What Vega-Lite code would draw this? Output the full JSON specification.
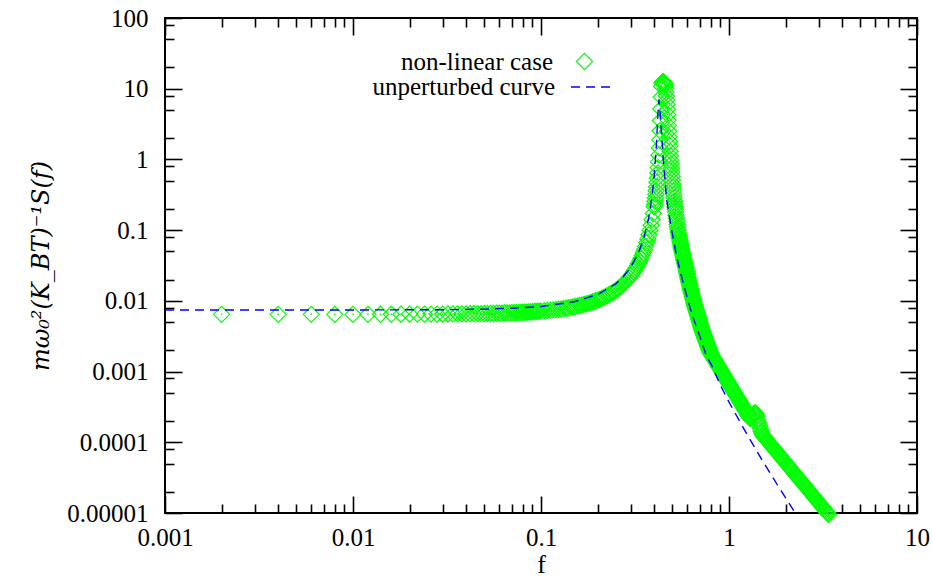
{
  "$schema": "https://vega.github.io/schema/vega-lite/v6.json",
  "width": 752,
  "height": 495,
  "autosize": "none",
  "padding": {"left": 165, "top": 18, "right": 15, "bottom": 70},
  "background": "white",
  "datasets": {
    "nl": [
      {"f":0.002,"S":0.00645},{"f":0.004,"S":0.00645},{"f":0.006,"S":0.00645},{"f":0.008,"S":0.00645},{"f":0.010,"S":0.00645},
      {"f":0.012,"S":0.00645},{"f":0.014,"S":0.00646},{"f":0.016,"S":0.00646},{"f":0.018,"S":0.00647},{"f":0.020,"S":0.00648},
      {"f":0.022,"S":0.00648},{"f":0.024,"S":0.00649},{"f":0.026,"S":0.00650},{"f":0.028,"S":0.00650},{"f":0.030,"S":0.00651},
      {"f":0.032,"S":0.00652},{"f":0.034,"S":0.00653},{"f":0.036,"S":0.00654},{"f":0.038,"S":0.00655},{"f":0.040,"S":0.00656},
      {"f":0.042,"S":0.00657},{"f":0.044,"S":0.00658},{"f":0.046,"S":0.00659},{"f":0.048,"S":0.00660},{"f":0.050,"S":0.00662},
      {"f":0.052,"S":0.006634},{"f":0.054,"S":0.006649},{"f":0.056,"S":0.006664},{"f":0.058,"S":0.00668},{"f":0.060,"S":0.006697},
      {"f":0.062,"S":0.006714},{"f":0.064,"S":0.006732},{"f":0.066,"S":0.00675},{"f":0.068,"S":0.006769},{"f":0.070,"S":0.006789},
      {"f":0.072,"S":0.00681},{"f":0.074,"S":0.006831},{"f":0.076,"S":0.006853},{"f":0.078,"S":0.006875},{"f":0.080,"S":0.006899},
      {"f":0.082,"S":0.006922},{"f":0.084,"S":0.006947},{"f":0.086,"S":0.006973},{"f":0.088,"S":0.006999},{"f":0.090,"S":0.007026},
      {"f":0.092,"S":0.007053},{"f":0.094,"S":0.007082},{"f":0.096,"S":0.007111},{"f":0.098,"S":0.007141},{"f":0.100,"S":0.007172},
      {"f":0.104,"S":0.007236},{"f":0.108,"S":0.007304},{"f":0.112,"S":0.007375},{"f":0.116,"S":0.00745},{"f":0.120,"S":0.007528},
      {"f":0.124,"S":0.007611},{"f":0.128,"S":0.007698},{"f":0.132,"S":0.007789},{"f":0.136,"S":0.007885},{"f":0.140,"S":0.007985},
      {"f":0.144,"S":0.00809},{"f":0.148,"S":0.008201},{"f":0.152,"S":0.008317},{"f":0.156,"S":0.008438},{"f":0.160,"S":0.008565},
      {"f":0.164,"S":0.008699},{"f":0.168,"S":0.00884},{"f":0.172,"S":0.008987},{"f":0.176,"S":0.009141},{"f":0.180,"S":0.009304},
      {"f":0.184,"S":0.009474},{"f":0.188,"S":0.009653},{"f":0.192,"S":0.009841},{"f":0.196,"S":0.010039},{"f":0.200,"S":0.010247},
      {"f":0.205,"S":0.010522},{"f":0.210,"S":0.010817},{"f":0.215,"S":0.01113},{"f":0.220,"S":0.011467},{"f":0.225,"S":0.011826},
      {"f":0.230,"S":0.012212},{"f":0.235,"S":0.012626},{"f":0.240,"S":0.013071},{"f":0.245,"S":0.01355},{"f":0.250,"S":0.014066},
      {"f":0.255,"S":0.014624},{"f":0.260,"S":0.015227},{"f":0.265,"S":0.015883},{"f":0.270,"S":0.016594},{"f":0.275,"S":0.01737},
      {"f":0.280,"S":0.018217},{"f":0.285,"S":0.019144},{"f":0.290,"S":0.020163},{"f":0.295,"S":0.021284},{"f":0.300,"S":0.022525},
      {"f":0.305,"S":0.0239},{"f":0.310,"S":0.025431},{"f":0.315,"S":0.027143},{"f":0.320,"S":0.029066},{"f":0.325,"S":0.031236},
      {"f":0.330,"S":0.033697},{"f":0.335,"S":0.036507},{"f":0.340,"S":0.039734},{"f":0.345,"S":0.043467},{"f":0.350,"S":0.047824},
      {"f":0.355,"S":0.052943},{"f":0.360,"S":0.059023},{"f":0.365,"S":0.066324},{"f":0.370,"S":0.075201},{"f":0.375,"S":0.086146},
      {"f":0.380,"S":0.099873},{"f":0.385,"S":0.11742},{"f":0.390,"S":0.14037},{"f":0.395,"S":0.17124},{"f":0.400,"S":0.21414},
      {"f":0.402,"S":0.2318},{"f":0.404,"S":0.2565},{"f":0.406,"S":0.2855},{"f":0.408,"S":0.3199},{"f":0.410,"S":0.361},
      {"f":0.412,"S":0.4108},{"f":0.414,"S":0.4718},{"f":0.416,"S":0.5477},{"f":0.418,"S":0.6436},{"f":0.420,"S":0.767},
      {"f":0.422,"S":0.9295},{"f":0.424,"S":1.1488},{"f":0.426,"S":1.4534},{"f":0.428,"S":1.8912},{"f":0.430,"S":2.544},
      {"f":0.432,"S":3.555},{"f":0.434,"S":5.161},{"f":0.436,"S":7.645},{"f":0.438,"S":10.78},{"f":0.440,"S":12.0},
      {"f":0.442,"S":12.4},{"f":0.444,"S":12.5},{"f":0.446,"S":12.5},{"f":0.448,"S":12.4},{"f":0.450,"S":12.3},
      {"f":0.452,"S":12.15},{"f":0.454,"S":11.9},{"f":0.456,"S":11.5},{"f":0.458,"S":11.0},{"f":0.460,"S":10.0},
      {"f":0.462,"S":8.9},{"f":0.464,"S":7.9},{"f":0.466,"S":6.9},{"f":0.468,"S":6.0},{"f":0.470,"S":5.1},
      {"f":0.472,"S":4.3},{"f":0.474,"S":3.6},{"f":0.476,"S":3.0},{"f":0.478,"S":2.5},{"f":0.480,"S":2.1},
      {"f":0.482,"S":1.8},{"f":0.484,"S":1.55},{"f":0.486,"S":1.3},{"f":0.488,"S":1.12},{"f":0.490,"S":0.98},
      {"f":0.492,"S":0.86},{"f":0.494,"S":0.75},{"f":0.496,"S":0.66},{"f":0.498,"S":0.575},{"f":0.500,"S":0.51},
      {"f":0.502,"S":0.45},{"f":0.504,"S":0.40},{"f":0.506,"S":0.36},{"f":0.508,"S":0.32},{"f":0.510,"S":0.29},
      {"f":0.512,"S":0.26},{"f":0.514,"S":0.236},{"f":0.516,"S":0.214},{"f":0.518,"S":0.195},{"f":0.520,"S":0.18},
      {"f":0.5225,"S":0.163},{"f":0.525,"S":0.148},{"f":0.5275,"S":0.133},{"f":0.530,"S":0.120},{"f":0.5325,"S":0.1106},
      {"f":0.535,"S":0.102},{"f":0.5375,"S":0.0943},{"f":0.540,"S":0.0871},{"f":0.5425,"S":0.0817},{"f":0.545,"S":0.0767},
      {"f":0.5475,"S":0.072},{"f":0.550,"S":0.0676},{"f":0.5525,"S":0.0631},{"f":0.555,"S":0.0589},{"f":0.5575,"S":0.0559},
      {"f":0.560,"S":0.0531},{"f":0.5625,"S":0.0504},{"f":0.565,"S":0.0479},{"f":0.5675,"S":0.0455},{"f":0.570,"S":0.0432},
      {"f":0.5725,"S":0.041},{"f":0.575,"S":0.0389},{"f":0.5775,"S":0.0372},{"f":0.580,"S":0.0355},{"f":0.5825,"S":0.0335},
      {"f":0.585,"S":0.0316},{"f":0.5875,"S":0.0302},{"f":0.590,"S":0.0288},{"f":0.5925,"S":0.0272},{"f":0.595,"S":0.0257},
      {"f":0.5975,"S":0.0244},{"f":0.600,"S":0.0232},{"f":0.6025,"S":0.022},{"f":0.605,"S":0.0209},{"f":0.6075,"S":0.02},
      {"f":0.610,"S":0.0191},{"f":0.6125,"S":0.0182},{"f":0.615,"S":0.0174},{"f":0.6175,"S":0.0166},{"f":0.620,"S":0.0158},
      {"f":0.6225,"S":0.0151},{"f":0.625,"S":0.0145},{"f":0.6275,"S":0.0138},{"f":0.630,"S":0.0132},{"f":0.6325,"S":0.0127},
      {"f":0.635,"S":0.0122},{"f":0.6375,"S":0.0117},{"f":0.640,"S":0.0112},{"f":0.6425,"S":0.01085},{"f":0.645,"S":0.0105},
      {"f":0.6475,"S":0.01007},{"f":0.650,"S":0.00966},{"f":0.6525,"S":0.00928},{"f":0.655,"S":0.00891},{"f":0.6575,"S":0.00861},
      {"f":0.660,"S":0.00832},{"f":0.6625,"S":0.00804},{"f":0.665,"S":0.00776},{"f":0.6675,"S":0.0075},{"f":0.670,"S":0.00724},
      {"f":0.6725,"S":0.007},{"f":0.675,"S":0.00676},{"f":0.6775,"S":0.00657},{"f":0.680,"S":0.00638},{"f":0.6825,"S":0.00617},
      {"f":0.685,"S":0.00596},{"f":0.6875,"S":0.00577},{"f":0.690,"S":0.00558},{"f":0.6925,"S":0.00541},{"f":0.695,"S":0.00525},
      {"f":0.6975,"S":0.00507},{"f":0.700,"S":0.0049},{"f":0.7025,"S":0.00473},{"f":0.705,"S":0.00457},{"f":0.7075,"S":0.00444},
      {"f":0.710,"S":0.00432},{"f":0.7125,"S":0.00417},{"f":0.715,"S":0.00403},{"f":0.7175,"S":0.00391},{"f":0.720,"S":0.0038},
      {"f":0.7225,"S":0.00371},{"f":0.725,"S":0.00363},{"f":0.7275,"S":0.00355},{"f":0.730,"S":0.00347},{"f":0.7325,"S":0.00337},
      {"f":0.735,"S":0.00327},{"f":0.7375,"S":0.0032},{"f":0.740,"S":0.00313},{"f":0.7425,"S":0.00304},{"f":0.745,"S":0.00295},
      {"f":0.7475,"S":0.00288},{"f":0.750,"S":0.00282},{"f":0.7525,"S":0.00275},{"f":0.755,"S":0.00269},{"f":0.7575,"S":0.00263},
      {"f":0.760,"S":0.00257},{"f":0.7625,"S":0.00251},{"f":0.765,"S":0.00245},{"f":0.7675,"S":0.00239},{"f":0.770,"S":0.00234},
      {"f":0.7725,"S":0.00229},{"f":0.775,"S":0.00224},{"f":0.7775,"S":0.00219},{"f":0.780,"S":0.00214},{"f":0.7825,"S":0.00209},
      {"f":0.785,"S":0.00204},{"f":0.7875,"S":0.00199},{"f":0.790,"S":0.00195},{"f":0.7925,"S":0.0019},{"f":0.795,"S":0.00186},
      {"f":0.7975,"S":0.00183},{"f":0.800,"S":0.0018},
      {"f":0.808,"S":0.001722},{"f":0.8161,"S":0.001648},{"f":0.8242,"S":0.001578},{"f":0.8325,"S":0.00151},{"f":0.8408,"S":0.001445},
      {"f":0.8492,"S":0.001384},{"f":0.8577,"S":0.001324},{"f":0.8663,"S":0.001268},{"f":0.875,"S":0.001213},{"f":0.8837,"S":0.001161},
      {"f":0.8925,"S":0.001112},{"f":0.9015,"S":0.001064},{"f":0.9105,"S":0.001019},{"f":0.9196,"S":0.000975},{"f":0.9288,"S":0.000933},
      {"f":0.9381,"S":0.000893},{"f":0.9475,"S":0.000855},{"f":0.9569,"S":0.000818},{"f":0.9665,"S":0.000783},{"f":0.9762,"S":0.00075},
      {"f":0.9859,"S":0.000718},{"f":0.9958,"S":0.000687},{"f":1.0057,"S":0.000658},{"f":1.0158,"S":0.00063},{"f":1.026,"S":0.000603},
      {"f":1.0362,"S":0.000577},{"f":1.0466,"S":0.000552},{"f":1.057,"S":0.000528},{"f":1.0676,"S":0.000506},{"f":1.0783,"S":0.000484},
      {"f":1.0891,"S":0.000463},{"f":1.1,"S":0.000444},{"f":1.111,"S":0.000425},{"f":1.1221,"S":0.000406},{"f":1.1333,"S":0.000389},
      {"f":1.1446,"S":0.000372},{"f":1.1561,"S":0.000356},{"f":1.1676,"S":0.000341},{"f":1.1793,"S":0.000327},{"f":1.1911,"S":0.000313},
      {"f":1.203,"S":0.000299},{"f":1.215,"S":0.000286},{"f":1.2272,"S":0.000274},{"f":1.2395,"S":0.000262},{"f":1.2519,"S":0.000251},
      {"f":1.2644,"S":0.00024},{"f":1.277,"S":0.00023},{"f":1.2898,"S":0.00022},
      {"f":1.3027,"S":0.000216},{"f":1.3157,"S":0.000216},{"f":1.3289,"S":0.000224},{"f":1.3422,"S":0.000237},{"f":1.3556,"S":0.000251},
      {"f":1.3692,"S":0.00026},{"f":1.3828,"S":0.00026},{"f":1.3967,"S":0.000251},{"f":1.4106,"S":0.000232},{"f":1.4247,"S":0.000209},
      {"f":1.439,"S":0.000186},{"f":1.4534,"S":0.00017},{"f":1.4679,"S":0.000155},{"f":1.4826,"S":0.000143},{"f":1.4974,"S":0.000133},
      {"f":1.5124,"S":0.000126},
      {"f":1.5275,"S":0.000122},{"f":1.5428,"S":0.0001181},{"f":1.5582,"S":0.0001144},{"f":1.5738,"S":0.0001108},{"f":1.5895,"S":0.0001074},
      {"f":1.6054,"S":0.000104},{"f":1.6215,"S":0.0001007},{"f":1.6377,"S":0.0000976},{"f":1.6541,"S":0.0000945},{"f":1.6706,"S":0.0000916},
      {"f":1.6873,"S":0.0000887},{"f":1.7042,"S":0.0000859},{"f":1.7212,"S":0.0000832},{"f":1.7385,"S":0.0000806},{"f":1.7558,"S":0.0000781},
      {"f":1.7734,"S":0.0000756},{"f":1.7911,"S":0.0000733},{"f":1.809,"S":0.000071},{"f":1.8271,"S":0.0000688},{"f":1.8454,"S":0.0000666},
      {"f":1.8639,"S":0.0000645},{"f":1.8825,"S":0.0000625},{"f":1.9013,"S":0.0000605},{"f":1.9203,"S":0.0000586},{"f":1.9395,"S":0.0000568},
      {"f":1.9589,"S":0.000055},{"f":1.9785,"S":0.0000533},{"f":1.9983,"S":0.0000516},{"f":2.0183,"S":0.00005},{"f":2.0385,"S":0.0000484},
      {"f":2.0589,"S":0.0000469},{"f":2.0795,"S":0.0000455},{"f":2.1002,"S":0.000044},{"f":2.1212,"S":0.0000426},{"f":2.1425,"S":0.0000413},
      {"f":2.1639,"S":0.00004},{"f":2.1855,"S":0.0000388},{"f":2.2074,"S":0.0000375},{"f":2.2295,"S":0.0000364},{"f":2.2517,"S":0.0000352},
      {"f":2.2743,"S":0.0000341},{"f":2.297,"S":0.0000331},{"f":2.32,"S":0.000032},{"f":2.3432,"S":0.000031},{"f":2.3666,"S":0.00003},
      {"f":2.3903,"S":0.0000291},{"f":2.4142,"S":0.0000282},{"f":2.4383,"S":0.0000273},{"f":2.4627,"S":0.0000265},{"f":2.4873,"S":0.0000256},
      {"f":2.5122,"S":0.0000248},{"f":2.5373,"S":0.000024},{"f":2.5627,"S":0.0000233},{"f":2.5883,"S":0.0000226},{"f":2.6142,"S":0.0000219},
      {"f":2.6403,"S":0.0000212},{"f":2.6668,"S":0.0000205},{"f":2.6934,"S":0.0000199},{"f":2.7204,"S":0.0000192},{"f":2.7476,"S":0.0000186},
      {"f":2.775,"S":0.0000181},{"f":2.8028,"S":0.0000175},{"f":2.8308,"S":0.0000169},{"f":2.8591,"S":0.0000164},{"f":2.8877,"S":0.0000159},
      {"f":2.9166,"S":0.0000154},{"f":2.9458,"S":0.0000149},{"f":2.9752,"S":0.0000144},{"f":3.005,"S":0.000014},{"f":3.035,"S":0.0000136},
      {"f":3.0654,"S":0.0000131},{"f":3.096,"S":0.0000127},{"f":3.127,"S":0.0000123},{"f":3.1583,"S":0.0000119},{"f":3.1898,"S":0.0000116},
      {"f":3.2217,"S":0.0000112},{"f":3.254,"S":0.0000108},{"f":3.2865,"S":0.0000105},{"f":3.3194,"S":0.0000102},{"f":3.3525,"S":0.00000986},
      {"f":3.3861,"S":0.00000955}
    ],
    "up": [
      {"f":0.001,"S":0.00742},{"f":0.01,"S":0.00743},{"f":0.03,"S":0.0075},{"f":0.05,"S":0.00763},{"f":0.08,"S":0.008},
      {"f":0.1,"S":0.00832},{"f":0.15,"S":0.0097},{"f":0.2,"S":0.0123},{"f":0.25,"S":0.0174},{"f":0.274,"S":0.0219},
      {"f":0.3,"S":0.0298},{"f":0.33,"S":0.0478},{"f":0.35,"S":0.073},{"f":0.3574,"S":0.09},{"f":0.37,"S":0.13},
      {"f":0.38,"S":0.19},{"f":0.39,"S":0.31},{"f":0.4,"S":0.58},{"f":0.41,"S":1.45},{"f":0.415,"S":2.7},
      {"f":0.42,"S":5.2},{"f":0.424,"S":7.0},{"f":0.43,"S":4.5},{"f":0.44,"S":1.9},{"f":0.45,"S":0.8},
      {"f":0.457,"S":0.5},{"f":0.466,"S":0.27},{"f":0.4956,"S":0.1},{"f":0.527,"S":0.042},{"f":0.571,"S":0.0177},
      {"f":0.633,"S":0.00665},{"f":0.701,"S":0.0031},{"f":0.761,"S":0.00162},{"f":0.8,"S":0.0013},{"f":0.9,"S":0.00064},
      {"f":1.0,"S":0.00037},{"f":1.2,"S":0.000155},{"f":1.267,"S":0.00012},{"f":1.5,"S":0.000056},{"f":1.8,"S":0.0000255},
      {"f":2.0,"S":0.0000164},{"f":2.2,"S":0.000011},{"f":2.3,"S":0.00000915}
    ]
  },
  "resolve": {"axis": {"x": "independent", "y": "independent"}},
  "layer": [
    {
      "data": {"name": "nl"},
      "mark": {"type": "point", "filled": false, "color": "#00ff00", "strokeWidth": 1.2, "size": 260, "opacity": 1},
      "encoding": {
        "x": {"field": "f", "type": "quantitative",
              "scale": {"type": "log", "domain": [0.001, 10], "nice": false},
              "axis": {"orient": "bottom", "values": [0.001, 0.01, 0.1, 1, 10], "format": "~g", "tickSize": -17, "labelPadding": 29, "title": "f", "titlePadding": 1}},
        "y": {"field": "S", "type": "quantitative",
              "scale": {"type": "log", "domain": [0.00001, 100], "nice": false},
              "axis": {"orient": "left", "values": [0.00001, 0.0001, 0.001, 0.01, 0.1, 1, 10, 100], "format": "~g", "tickSize": -17, "labelPadding": 34, "title": "mω₀²(K_BT)⁻¹S(f)", "titleFont": "DejaVu Serif", "titleFontStyle": "italic", "titleFontSize": 24, "titlePadding": 13}},
        "shape": {"datum": "non-linear case", "type": "nominal",
                  "scale": {"range": ["diamond"]},
                  "legend": {"title": null, "orient": "none", "legendX": 407, "legendY": 31, "padding": 0,
                             "labelAlign": "right", "labelOffset": -44, "labelLimit": 400,
                             "symbolSize": 260, "symbolStrokeColor": "#00ff00", "symbolStrokeWidth": 1.2, "symbolFillColor": "transparent"}}
      }
    },
    {
      "data": {"name": "nl"},
      "mark": {"type": "square", "size": 2, "color": "#00ff00", "opacity": 1},
      "encoding": {
        "x": {"field": "f", "type": "quantitative", "axis": null},
        "y": {"field": "S", "type": "quantitative", "axis": null}
      }
    },
    {
      "data": {"name": "up"},
      "mark": {"type": "line", "color": "#0000ff", "strokeWidth": 1.4, "clip": true},
      "encoding": {
        "x": {"field": "f", "type": "quantitative",
              "axis": {"orient": "bottom", "values": [0.002,0.003,0.004,0.005,0.006,0.007,0.008,0.009,0.02,0.03,0.04,0.05,0.06,0.07,0.08,0.09,0.2,0.3,0.4,0.5,0.6,0.7,0.8,0.9,2,3,4,5,6,7,8,9], "labels": false, "tickSize": -9, "title": null}},
        "y": {"field": "S", "type": "quantitative",
              "axis": {"orient": "left", "values": [0.00002,0.00005,0.00008,0.0002,0.0005,0.0008,0.002,0.005,0.008,0.02,0.05,0.08,0.2,0.5,0.8,2,5,8,20,50,80], "labels": false, "tickSize": -9, "title": null}},
        "strokeDash": {"datum": "unperturbed curve", "type": "nominal",
                       "scale": {"range": [[9, 6]]},
                       "legend": {"title": null, "orient": "none", "legendX": 405, "legendY": 47, "padding": 0,
                                  "labelAlign": "right", "labelOffset": -59, "labelLimit": 400,
                                  "symbolType": "stroke", "symbolSize": 1764, "symbolStrokeColor": "#0000ff", "symbolStrokeWidth": 1.4, "symbolDash": [9, 6]}}
      }
    },
    {
      "data": {"name": "up"},
      "mark": {"type": "point", "opacity": 0},
      "encoding": {
        "x": {"field": "f", "type": "quantitative",
              "axis": {"orient": "top", "values": [0.001, 0.01, 0.1, 1, 10], "labels": false, "tickSize": -17, "title": null}},
        "y": {"field": "S", "type": "quantitative",
              "axis": {"orient": "right", "values": [0.00001, 0.0001, 0.001, 0.01, 0.1, 1, 10, 100], "labels": false, "tickSize": -17, "title": null}}
      }
    },
    {
      "data": {"name": "up"},
      "mark": {"type": "point", "opacity": 0},
      "encoding": {
        "x": {"field": "f", "type": "quantitative",
              "axis": {"orient": "top", "values": [0.002,0.003,0.004,0.005,0.006,0.007,0.008,0.009,0.02,0.03,0.04,0.05,0.06,0.07,0.08,0.09,0.2,0.3,0.4,0.5,0.6,0.7,0.8,0.9,2,3,4,5,6,7,8,9], "labels": false, "tickSize": -9, "title": null}},
        "y": {"field": "S", "type": "quantitative",
              "axis": {"orient": "right", "values": [0.00002,0.00005,0.00008,0.0002,0.0005,0.0008,0.002,0.005,0.008,0.02,0.05,0.08,0.2,0.5,0.8,2,5,8,20,50,80], "labels": false, "tickSize": -9, "title": null}}
      }
    }
  ],
  "config": {
    "view": {"stroke": "black", "strokeWidth": 2},
    "axis": {"grid": false, "domain": false, "tickColor": "black", "tickWidth": 1.6,
             "labelFont": "Liberation Serif", "labelFontSize": 25, "labelColor": "black",
             "labelFlush": false, "labelOverlap": false, "labelBound": false,
             "titleFont": "Liberation Serif", "titleFontSize": 26, "titleFontWeight": "normal", "titleColor": "black"},
    "legend": {"labelFont": "Liberation Serif", "labelFontSize": 25, "labelColor": "black"}
  }
}
